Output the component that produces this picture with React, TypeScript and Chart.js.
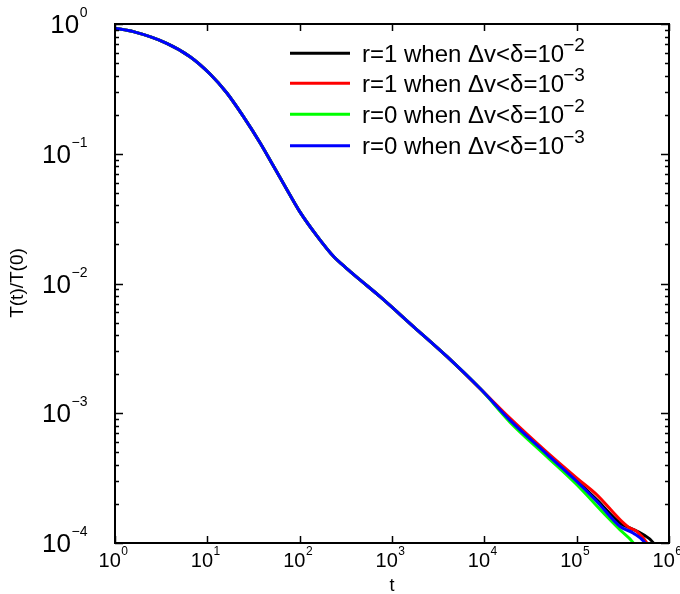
import React, { useEffect, useRef } from "react";
import { Chart, registerables } from "chart.js";

Chart.register(...registerables);

// ---- data ----
const tCommon = [1, 1.58, 3.63, 6.5, 10.7, 16.2, 24.5, 37.2, 52, 72.6, 101, 153, 232, 324, 451, 743, 1706, 3926, 8995];
const TCommon = [0.927, 0.873, 0.71, 0.56, 0.412, 0.295, 0.194, 0.1216, 0.0804, 0.0531, 0.0355, 0.0234, 0.0162, 0.01303, 0.01067, 0.00792, 0.00466, 0.00274, 0.00155];

const tTailBlack = [19055, 47533, 100462, 165577, 295801, 380189, 529663, 679204, 741310];
const TTailBlack = [8.91e-4, 4.9e-4, 3.03e-4, 2.15e-4, 1.42e-4, 1.303e-4, 1.156e-4, 1.0e-4, 8.7e-5];

const tTailRed = [19055, 47533, 100462, 165577, 295801, 363915, 448745, 576766, 660693];
const TTailRed = [9.12e-4, 5.01e-4, 3.16e-4, 2.35e-4, 1.51e-4, 1.324e-4, 1.227e-4, 1.0e-4, 8.3e-5];

const tTailGreen = [19055, 47533, 100462, 212324, 295801, 412098, 457088];
const TTailGreen = [8.51e-4, 4.63e-4, 2.81e-4, 1.6e-4, 1.26e-4, 1.0e-4, 8.7e-5];

const tTailBlue = [19055, 47533, 100462, 165577, 295801, 412098, 552077, 616595];
const TTailBlue = [8.81e-4, 4.84e-4, 2.98e-4, 2.09e-4, 1.34e-4, 1.191e-4, 1.0e-4, 8.5e-5];

const seriesNames = [
  { r: "r=1", exp: "−2" },
  { r: "r=1", exp: "−3" },
  { r: "r=0", exp: "−2" },
  { r: "r=0", exp: "−3" },
];
const seriesColors = ["#000000", "#ff0000", "#00ff00", "#0000ff"];

const xTickExps = [0, 1, 2, 3, 4, 5, 6];
const yTickExps = [0, -1, -2, -3, -4];

const xTitle = "t";
const yTitle = "T(t)/T(0)";

const FONT = '"Liberation Sans", Arial, Helvetica, sans-serif';

function build(ts: number[], Ts: number[]) {
  return ts.map((t, i) => ({ x: t, y: Ts[i] }));
}

function expStr(e: number) {
  return e < 0 ? "−" + String(-e) : String(e);
}

const decorPlugin = {
  id: "decor",
  afterDraw(chart: any) {
    const ctx: CanvasRenderingContext2D = chart.ctx;
    const { left, right, top, bottom } = chart.chartArea;
    const xs = chart.scales.x;
    const ys = chart.scales.y;
    ctx.save();
    ctx.strokeStyle = "#000";
    ctx.fillStyle = "#000";

    // box
    ctx.lineWidth = 2;
    ctx.strokeRect(left, top, right - left, bottom - top);

    // x ticks (major only), inward top & bottom
    ctx.lineWidth = 1.5;
    ctx.beginPath();
    for (const e of xTickExps) {
      const px = Math.round(xs.getPixelForValue(Math.pow(10, e))) + 0.5;
      ctx.moveTo(px, bottom);
      ctx.lineTo(px, bottom - 7);
      ctx.moveTo(px, top);
      ctx.lineTo(px, top + 7);
    }
    ctx.stroke();

    // y ticks major + minor, inward left & right
    ctx.beginPath();
    for (let e = -4; e <= 0; e++) {
      for (let m = 1; m <= 9; m++) {
        const v = m * Math.pow(10, e);
        if (v > 1.0000001) continue;
        const py = Math.round(ys.getPixelForValue(v)) + 0.5;
        const len = m === 1 ? 8 : 4;
        ctx.moveTo(left, py);
        ctx.lineTo(left + len, py);
        ctx.moveTo(right, py);
        ctx.lineTo(right - len, py);
      }
    }
    ctx.stroke();

    // y tick labels
    ctx.textBaseline = "alphabetic";
    ctx.textAlign = "left";
    for (const e of yTickExps) {
      const py = ys.getPixelForValue(Math.pow(10, e));
      ctx.font = `26px ${FONT}`;
      const wMain = ctx.measureText("10").width;
      ctx.font = `14px ${FONT}`;
      const sup = expStr(e);
      const wSup = ctx.measureText(sup).width;
      const rightEdge = 87;
      const x0 = rightEdge - wSup - wMain;
      ctx.font = `26px ${FONT}`;
      ctx.fillText("10", x0, py + 9);
      ctx.font = `14px ${FONT}`;
      ctx.fillText(sup, x0 + wMain + 0.5, py - 7);
    }

    // x tick labels
    for (const e of xTickExps) {
      const px = xs.getPixelForValue(Math.pow(10, e));
      ctx.font = `20px ${FONT}`;
      const wMain = ctx.measureText("10").width;
      ctx.font = `12px ${FONT}`;
      const sup = expStr(e);
      const wSup = ctx.measureText(sup).width;
      const x0 = px - (wMain + wSup) / 2 - 2;
      ctx.font = `20px ${FONT}`;
      ctx.fillText("10", x0, 567);
      ctx.font = `12px ${FONT}`;
      ctx.fillText(sup, x0 + wMain + 0.5, 555);
    }

    // axis titles
    ctx.font = `18px ${FONT}`;
    ctx.textAlign = "center";
    ctx.fillText(xTitle, 392, 591);
    ctx.save();
    ctx.translate(23, 283);
    ctx.rotate(-Math.PI / 2);
    ctx.font = `19px ${FONT}`;
    ctx.fillText(yTitle, 0, 0);
    ctx.restore();

    // legend
    const rowY = [53.3, 83.3, 114.3, 145.7];
    ctx.textAlign = "left";
    seriesNames.forEach((s, i) => {
      const y = rowY[i];
      ctx.strokeStyle = seriesColors[i];
      ctx.lineWidth = 3;
      ctx.beginPath();
      ctx.moveTo(290, y);
      ctx.lineTo(350, y);
      ctx.stroke();
      ctx.fillStyle = "#000";
      ctx.font = `24px ${FONT}`;
      const main = `${s.r} when Δv<δ=10`;
      ctx.fillText(main, 362, y + 8.5);
      const w = ctx.measureText(main).width;
      ctx.font = `19px ${FONT}`;
      ctx.fillText(s.exp, 362 + w - 1, y - 2.5);
    });

    ctx.restore();
  },
};

export default function App() {
  const canvasRef = useRef<HTMLCanvasElement | null>(null);

  useEffect(() => {
    const canvas = canvasRef.current;
    if (!canvas) return;
    const dataBlack = build(tCommon.concat(tTailBlack), TCommon.concat(TTailBlack));
    const dataRed = build(tCommon.concat(tTailRed), TCommon.concat(TTailRed));
    const dataGreen = build(tCommon.concat(tTailGreen), TCommon.concat(TTailGreen));
    const dataBlue = build(tCommon.concat(tTailBlue), TCommon.concat(TTailBlue));
    const datasets = [dataBlack, dataRed, dataGreen, dataBlue].map((d, i) => ({
      label: `${seriesNames[i].r} when Δv<δ=10^${seriesNames[i].exp}`,
      data: d,
      borderColor: seriesColors[i],
      backgroundColor: seriesColors[i],
      borderWidth: 3,
      pointRadius: 0,
      fill: false,
      cubicInterpolationMode: "monotone" as const,
      clip: 0,
      order: 4 - i,
    }));
    const chart = new Chart(canvas, {
      type: "line",
      data: { datasets },
      options: {
        animation: false,
        responsive: false,
        maintainAspectRatio: false,
        devicePixelRatio: 1,
        layout: { padding: { left: 115, top: 24, right: 11, bottom: 51 } },
        plugins: { legend: { display: false }, tooltip: { enabled: false }, title: { display: false } },
        scales: {
          x: { type: "logarithmic", min: 1, max: 1e6, display: false },
          y: { type: "logarithmic", min: 1e-4, max: 1, display: false },
        },
      },
      plugins: [decorPlugin],
    });
    return () => chart.destroy();
  }, []);

  return (
    <div style={{ position: "absolute", left: 0, top: 0, width: 680, height: 594, background: "#fff" }}>
      <canvas ref={canvasRef} width={680} height={594} style={{ width: 680, height: 594, display: "block" }} />
    </div>
  );
}
